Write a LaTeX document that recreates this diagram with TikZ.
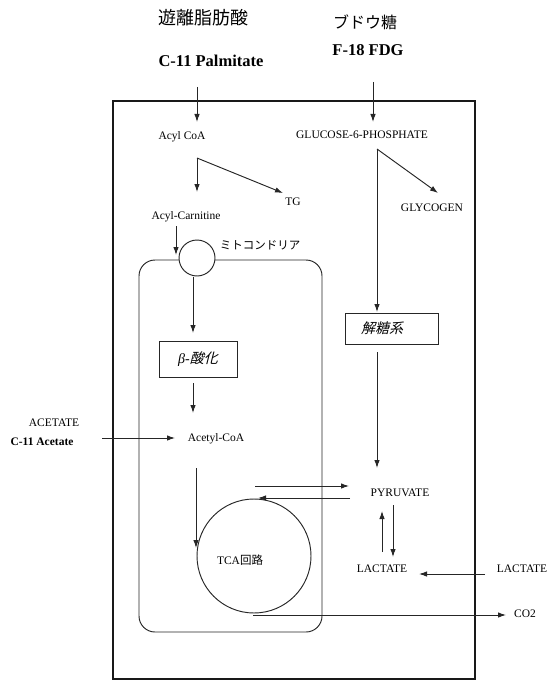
\documentclass[tikz,border=0pt]{standalone}
\usepackage{fontspec}
\setmainfont{Liberation Serif}
\newfontfamily\jpfont{Noto Sans CJK JP}
\newfontfamily\jpslant[FakeSlant=0.25]{Noto Sans CJK JP}
\usetikzlibrary{arrows.meta}
\begin{document}
\begin{tikzpicture}[x=1pt,y=-1pt,
  lbl/.style={font=\fontsize{11.5}{13}\selectfont, text=black, inner sep=0pt},
  big/.style={font=\fontsize{16.5}{18}\selectfont\bfseries, text=black, inner sep=0pt},
  ln/.style={draw=black!85, line width=0.95pt},
  arr/.style={ln, -{Latex[length=8pt,width=5.5pt]}},
  boxst/.style={draw=black!85, line width=0.95pt, inner sep=0pt}]
\useasboundingbox (0,0) rectangle (550,682);
% cell
\draw[draw=black!90, line width=2.4pt] (113,101) rectangle (475,679);
% mitochondrion
\draw[ln, rounded corners=16pt] (139,260) rectangle (322,632);
\node[circle, draw=black!85, line width=0.95pt, fill=white, minimum size=36pt, inner sep=0pt] (carn) at (197,258) {};
\node[circle, draw=black!85, line width=0.95pt, minimum size=114pt, inner sep=0pt] (tca) at (254,556) {};
% titles
\node[inner sep=0pt, font=\jpfont\fontsize{18}{20}\selectfont] (ffa) at (203,18) {遊離脂肪酸};
\node[inner sep=0pt, font=\jpfont\fontsize{16}{18}\selectfont] (glu) at (365,22) {ブドウ糖};
\node[big] (palm) at (211,61) {C-11 Palmitate};
\node[big] (fdg) at (368,50) {F-18 FDG};
% labels
\node[lbl] (acylcoa) at (182,137) {Acyl CoA};
\node[lbl] (g6p) at (362,135) {GLUCOSE-6-PHOSPHATE};
\node[lbl] (tg) at (293,202) {TG};
\node[lbl] (glycogen) at (432,208) {GLYCOGEN};
\node[lbl] (acylcarn) at (186,217) {Acyl-Carnitine};
\node[inner sep=0pt, font=\jpfont\fontsize{11.5}{13}\selectfont] (mito) at (260,245) {ミトコンドリア};
\node[boxst, minimum width=78pt, minimum height=36pt] (betabox) at (198,359) {};
\node[inner sep=0pt, font=\fontsize{14}{16}\selectfont] (betatxt) at (198,359) {\textit{β}-{\jpslant 酸化}};
\node[boxst, minimum width=93pt, minimum height=31pt] (glybox) at (391.5,328.5) {};
\node[inner sep=0pt, font=\jpslant\fontsize{14}{16}\selectfont] (glytxt) at (382,328) {解糖系};
\node[lbl] (acetylcoa) at (216,439) {Acetyl-CoA};
\node[lbl] (acetate) at (54,423) {ACETATE};
\node[lbl, font=\fontsize{11.5}{13}\selectfont\bfseries] (c11acetate) at (42,442) {C-11 Acetate};
\node[lbl] (tcatxt) at (240,560) {TCA{\jpfont 回路}};
\node[lbl] (pyruvate) at (400,493) {PYRUVATE};
\node[lbl] (lactate) at (382,569) {LACTATE};
\node[lbl] (extlactate) at (522,569) {LACTATE};
\node[lbl] (co2) at (525,614) {CO2};
% coordinates
\coordinate (pa) at (197,87);   \coordinate (pb) at (197,122);
\coordinate (fa) at (373,82);   \coordinate (fb) at (373,122);
\coordinate (ac0) at (197,158); \coordinate (ac1) at (197,192); \coordinate (tgend) at (283,193);
\coordinate (cr0) at (176,226); \coordinate (cr1) at (176,255);
\coordinate (m0) at (193,277);  \coordinate (m1) at (193,333);
\coordinate (b0) at (193,383);  \coordinate (b1) at (193,413);
\coordinate (at0) at (102,438); \coordinate (at1) at (175,438);
\coordinate (ad0) at (196,468); \coordinate (ad1) at (196,548);
\coordinate (g0) at (377,149);  \coordinate (g1) at (377,312); \coordinate (gly1) at (438,193);
\coordinate (y0) at (377,352);  \coordinate (y1) at (377,468);
\coordinate (p0) at (255,486);  \coordinate (p1) at (349,486);
\coordinate (q0) at (350,498);  \coordinate (q1) at (258,498);
\coordinate (u0) at (382,552);  \coordinate (u1) at (382,511);
\coordinate (d0) at (393,505);  \coordinate (d1) at (393,557);
\coordinate (l0) at (485,574);  \coordinate (l1) at (419,574);
\coordinate (c0) at (253,615);  \coordinate (c1) at (506,615);
% connectors
\draw[arr] (pa) -- (pb);
\draw[arr] (fa) -- (fb);
\draw[arr] (ac0) -- (ac1);
\draw[arr] (ac0) -- (tgend);
\draw[arr] (cr0) -- (cr1);
\draw[arr] (m0) -- (m1);
\draw[arr] (b0) -- (b1);
\draw[arr] (at0) -- (at1);
\draw[arr] (ad0) -- (ad1);
\draw[arr] (g0) -- (g1);
\draw[arr] (g0) -- (gly1);
\draw[arr] (y0) -- (y1);
\draw[arr] (p0) -- (p1);
\draw[arr] (q0) -- (q1);
\draw[arr] (u0) -- (u1);
\draw[arr] (d0) -- (d1);
\draw[arr] (l0) -- (l1);
\draw[arr] (c0) -- (c1);
\end{tikzpicture}
\end{document}
